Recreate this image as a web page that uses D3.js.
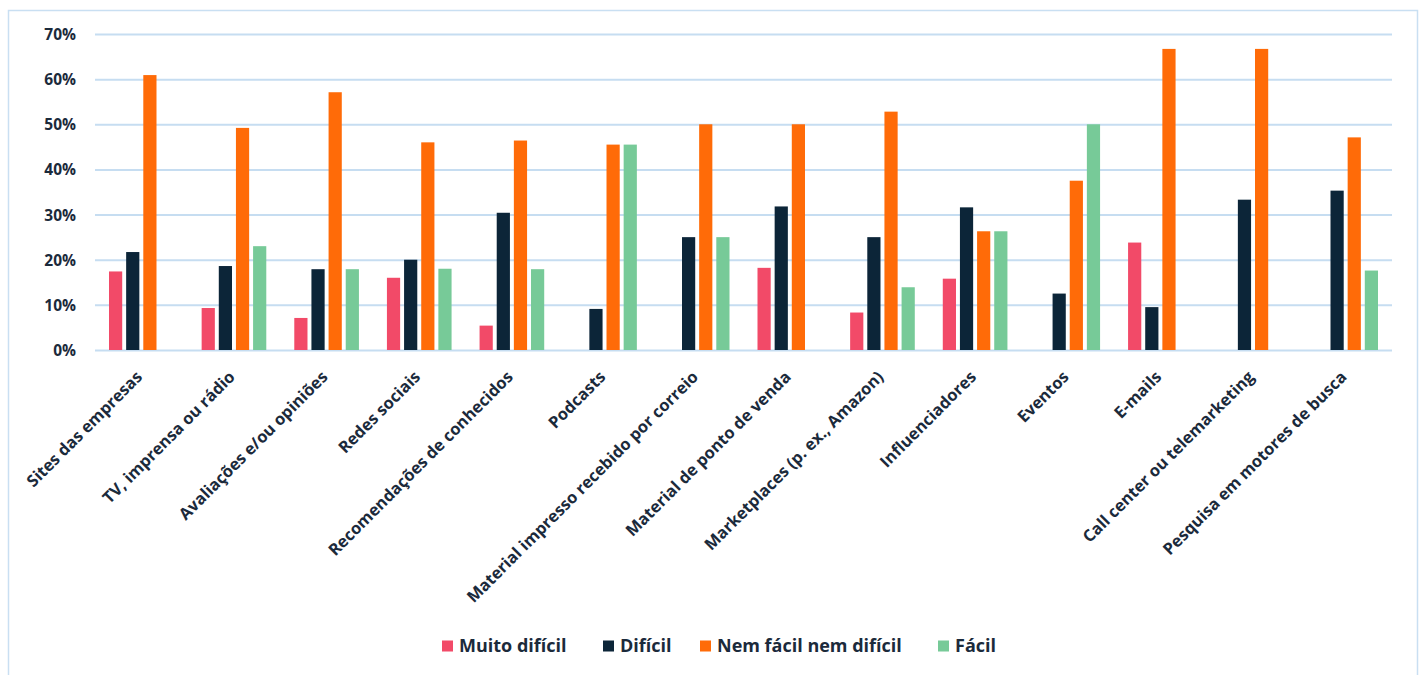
<!DOCTYPE html>
<html><head><meta charset="utf-8">
<script src="https://cdn.jsdelivr.net/npm/d3@7"></script>
<style>
html,body{margin:0;padding:0;background:#fff;}
svg{display:block;}
text{font-family:"Open Sans",sans-serif;font-weight:600;fill:#1b2a3b;}
</style></head>
<body>
<svg id="chart" width="1422" height="675"></svg>
<script>
const categories = ["Sites das empresas","TV, imprensa ou rádio","Avaliações e/ou opiniões","Redes sociais","Recomendações de conhecidos","Podcasts","Material impresso recebido por correio","Material de ponto de venda","Marketplaces (p. ex., Amazon)","Influenciadores","Eventos","E-mails","Call center ou telemarketing","Pesquisa em motores de busca"];
const seriesNames = ["Muito difícil","Difícil","Nem fácil nem difícil","Fácil"];
const muitoDificil = [17.4, 9.3, 7.1, 16.0, 5.4, 0, 0, 18.2, 8.3, 15.8, 0, 23.8, 0, 0];
const dificil      = [21.7, 18.6, 17.9, 20.0, 30.4, 9.1, 25.0, 31.8, 25.0, 31.6, 12.5, 9.5, 33.3, 35.3];
const nemNem       = [60.9, 49.2, 57.1, 46.0, 46.4, 45.5, 50.0, 50.0, 52.8, 26.3, 37.5, 66.7, 66.7, 47.1];
const facil        = [0, 23.0, 17.9, 18.0, 17.9, 45.5, 25.0, 0, 13.9, 26.3, 50.0, 0, 0, 17.6];
const yTicks = [0,10,20,30,40,50,60,70];
const colors = ["#f24a68","#0c2538","#ff6b08","#77ca98"];

(function(){
const seriesValues = [muitoDificil, dificil, nemNem, facil];
const svg = d3.select("#chart");

// frame
svg.append("rect").attr("x",8.5).attr("y",10.5).attr("width",1409).attr("height",680)
  .attr("fill","none").attr("stroke","#c9dff2").attr("stroke-width",1.5);

const mLeft = 95, mRight = 1392, mTop = 34, mBottom = 350;
const x0 = d3.scaleBand().domain(categories).range([mLeft,mRight]).padding(0);
const x1 = d3.scaleBand().domain(seriesNames).range([14, x0.bandwidth()-14]).paddingInner(0.23).paddingOuter(0);
const y = d3.scaleLinear().domain([0,70]).range([mBottom, mTop]);

// gridlines
const yAxis = d3.axisLeft(y).tickValues(yTicks).tickSize(-(mRight-mLeft)).tickFormat(d => d + "%");
const gy = svg.append("g").attr("transform",`translate(${mLeft},0)`).call(yAxis);
gy.select(".domain").remove();
gy.selectAll(".tick line").attr("stroke","#c6ddf1").attr("stroke-width",2);
gy.selectAll(".tick text").attr("x",-19).attr("dy","0.35em").style("font-size","15.5px").style("font-weight","700").attr("fill","#1b2a3b");

// bars
const groups = svg.append("g").selectAll("g").data(categories).join("g")
  .attr("transform", d => `translate(${x0(d)},0)`);
groups.selectAll("rect").data((d,i) => seriesNames.map((s,j) => ({s, v: seriesValues[j][i], j})))
  .join("rect")
  .attr("x", d => x1(d.s))
  .attr("width", x1.bandwidth())
  .attr("y", d => y(d.v))
  .attr("height", d => y(0) - y(d.v))
  .attr("fill", d => colors[d.j]);

// x labels
const xAxis = d3.axisBottom(x0).tickSize(0);
const gx = svg.append("g").attr("transform",`translate(0,${mBottom})`).call(xAxis);
gx.select(".domain").remove();
gx.selectAll(".tick text")
  .attr("text-anchor","end")
  .attr("transform","translate(-2,24) rotate(-45)")
  .attr("x",0).attr("y",0).attr("dy","0.35em")
  .style("font-size","16.4px").style("font-weight","700").attr("fill","#1b2a3b");

// legend
const legendX = [442, 603, 700, 938];
const lg = svg.append("g").selectAll("g").data(seriesNames).join("g")
  .attr("transform",(d,i)=>`translate(${legendX[i]},646)`);
lg.append("rect").attr("x",0).attr("y",-5.5).attr("width",11).attr("height",11).attr("fill",(d,i)=>colors[i]);
lg.append("text").attr("x",17).attr("y",0).attr("dy","0.35em").style("font-size","18px").style("font-weight","700").text(d=>d);
})();
</script>
</body></html>
